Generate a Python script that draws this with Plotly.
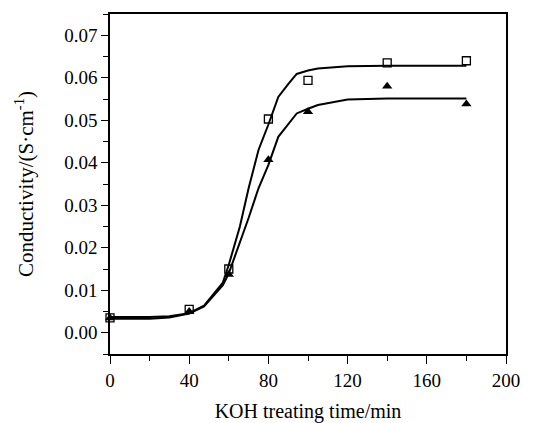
import plotly.graph_objects as go

# Measured data
time_min = [0, 40, 60, 80, 100, 140, 180]
sq_values = [0.0035, 0.0055, 0.0150, 0.0503, 0.0594, 0.0635, 0.0640]
tri_values = [0.0035, 0.0050, 0.0137, 0.0407, 0.0520, 0.0580, 0.0538]

# Fitted curves
fit_sq_x = [0, 20, 30, 40, 47.5, 57, 60, 65.6, 70, 75, 80, 85, 90, 94.3, 100, 105, 120, 140, 180]
fit_sq_y = [0.0037, 0.0037, 0.0039, 0.0046, 0.0064, 0.0118, 0.0160, 0.0250, 0.0340, 0.0430, 0.0490, 0.0555, 0.0585, 0.0609, 0.0617, 0.0622, 0.0627, 0.0628, 0.0628]
fit_tri_x = [0, 20, 30, 40, 47.5, 57, 60, 65.6, 70, 75, 80, 85, 90, 94.3, 100, 105, 120, 140, 180]
fit_tri_y = [0.0033, 0.0033, 0.0036, 0.0045, 0.0062, 0.0112, 0.0140, 0.0210, 0.0270, 0.0340, 0.0395, 0.0461, 0.0490, 0.0516, 0.0527, 0.0536, 0.0549, 0.0551, 0.0551]

fig = go.Figure()
fig.add_trace(go.Scatter(x=fit_sq_x, y=fit_sq_y, mode="lines",
                         line=dict(color="black", width=2), showlegend=False))
fig.add_trace(go.Scatter(x=fit_tri_x, y=fit_tri_y, mode="lines",
                         line=dict(color="black", width=2), showlegend=False))
fig.add_trace(go.Scatter(x=time_min, y=tri_values, mode="markers", cliponaxis=False,
                         marker=dict(symbol="triangle-up", size=9, color="black"),
                         showlegend=False))
fig.add_trace(go.Scatter(x=time_min, y=sq_values, mode="markers", cliponaxis=False,
                         marker=dict(symbol="square-open", size=8, color="black",
                                     line=dict(width=1.3)),
                         showlegend=False))

font_family = "Liberation Serif"
fig.update_layout(
    width=552, height=423,
    margin=dict(l=110, r=46, t=14, b=69),
    plot_bgcolor="white", paper_bgcolor="white",
    font=dict(family=font_family, color="black", size=19),
    xaxis=dict(
        range=[0, 200], tickmode="array", tickvals=[0, 40, 80, 120, 160, 200],
        ticktext=["0", "40", "80", "120", "160", "200"],
        ticks="outside", ticklen=8, tickwidth=1.3, tickcolor="black",
        minor=dict(dtick=20, ticks="outside", ticklen=5, tickwidth=1.3, tickcolor="black"),
        showline=True, linecolor="black", linewidth=1.5, mirror=True,
        showgrid=False, zeroline=False, automargin=False,
        title=dict(text="KOH treating time/min", standoff=18, font=dict(size=20)),
    ),
    yaxis=dict(
        range=[-0.005, 0.075], tickmode="array",
        tickvals=[0, 0.01, 0.02, 0.03, 0.04, 0.05, 0.06, 0.07],
        ticktext=["0.00", "0.01", "0.02", "0.03", "0.04", "0.05", "0.06", "0.07"],
        ticks="outside", ticklen=7, tickwidth=1.3, tickcolor="black",
        minor=dict(dtick=0.005, tick0=0, ticks="outside", ticklen=5, tickwidth=1.3, tickcolor="black"),
        showline=True, linecolor="black", linewidth=1.5, mirror=True,
        showgrid=False, zeroline=False, automargin=False,
        title=dict(text="Conductivity/(S·cm<sup>-1</sup>)", standoff=25, font=dict(size=21)),
    ),
)

fig.write_html("out.html")
